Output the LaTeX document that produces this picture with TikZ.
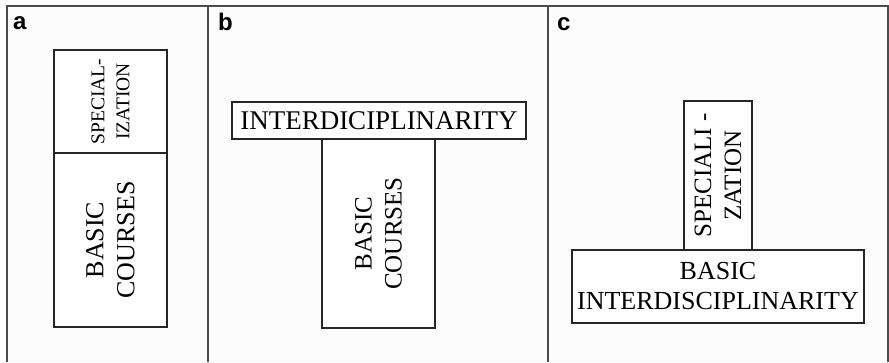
\documentclass[tikz,border=0pt]{standalone}
\usepackage{fontspec}
\setmainfont{Liberation Serif}
\newfontfamily\tagfont{Liberation Sans}
\begin{document}
\begin{tikzpicture}[x=1pt,y=-1pt,
  panel/.style={draw=black!70, line width=2pt},
  blk/.style={draw=black!85, line width=1.5pt, fill=white, inner sep=0pt,
    outer sep=0pt, align=center, font=\fontsize{25}{30}\selectfont},
  vblk/.style={blk, rotate=90},
  tag/.style={font=\tagfont\bfseries\fontsize{24}{24}\selectfont,
    anchor=base west, inner sep=0pt}]
\useasboundingbox (0,0) rectangle (889,362);
% frame of the three panels
\fill[black!1] (7,6) rectangle (888,362);
\draw[panel] (7,362) -- (7,6) -- (888,6) -- (888,362);
\draw[panel] (208,6) -- (208,362);
\draw[panel] (548,6) -- (548,362);

% panel labels
\node[tag] (la) at (13,29) {a};
\node[tag] (lb) at (218,30) {b};
\node[tag] (lc) at (557,30) {c};

% (a) specialization on top of basic courses
\node[vblk, minimum width=103pt, minimum height=113pt,
  font=\fontsize{19.5}{25}\selectfont] (aspec) at (110.5,101.5) {SPECIAL-\\IZATION};
\node[vblk, minimum width=174pt, minimum height=113pt,
  font=\fontsize{26}{31}\selectfont] (abasic) at (110.5,240) {BASIC\\COURSES};

% (b) interdisciplinarity on top of basic courses
\node[vblk, minimum width=189pt, minimum height=113pt] (bbasic) at (378.5,233.5) {BASIC\\COURSES};
\node[blk, minimum width=294pt, minimum height=37pt,
  font=\fontsize{27}{30}\selectfont] (binter) at (379,120.5) {INTERDICIPLINARITY};

% (c) specialization on top of basic interdisciplinarity
\node[vblk, minimum width=149pt, minimum height=68pt] (cspec) at (718,175.5) {SPECIALI -\\ZATION};
\node[blk, minimum width=292pt, minimum height=73pt,
  font=\fontsize{26}{30}\selectfont] (cbasic) at (718,286.5) {BASIC\\INTERDISCIPLINARITY};
\end{tikzpicture}
\end{document}
